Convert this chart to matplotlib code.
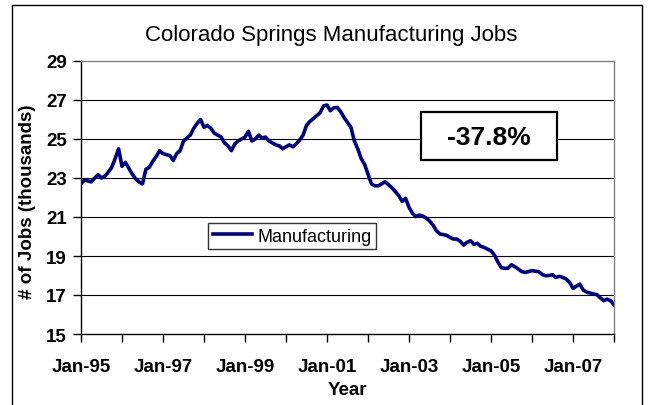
import matplotlib
matplotlib.use("Agg")
import matplotlib.pyplot as plt
from matplotlib.patches import Rectangle
import numpy as np

plt.rcParams['font.family'] = ['Liberation Sans', 'DejaVu Sans']

title = "Colorado Springs Manufacturing Jobs"
series_name = "Manufacturing"
x_label = "Year"
y_label = "# of Jobs (thousands)"
annotation = "-37.8%"

# Monthly values, Jan-1995 .. Jan-2008 (thousands of jobs)
jobs = [
    # 1995
    22.7, 22.9, 22.85, 22.8, 23.0, 23.17, 23.0, 23.1, 23.3, 23.55, 24.0, 24.5,
    # 1996
    23.6, 23.8, 23.5, 23.2, 22.95, 22.8, 22.7, 23.45, 23.55, 23.85, 24.1, 24.4,
    # 1997
    24.25, 24.2, 24.15, 23.9, 24.25, 24.4, 24.9, 25.05, 25.2, 25.55, 25.8, 26.0,
    # 1998
    25.6, 25.7, 25.55, 25.3, 25.2, 25.1, 24.8, 24.65, 24.4, 24.75, 24.9, 25.0,
    # 1999
    25.1, 25.4, 24.9, 25.0, 25.2, 25.05, 25.1, 24.9, 24.8, 24.7, 24.65, 24.5,
    # 2000
    24.6, 24.7, 24.6, 24.75, 24.95, 25.2, 25.7, 25.9, 26.05, 26.2, 26.35, 26.7,
    # 2001
    26.74, 26.45, 26.6, 26.62, 26.4, 26.1, 25.85, 25.6, 24.9, 24.5, 24.0, 23.7,
    # 2002
    23.2, 22.7, 22.6, 22.6, 22.7, 22.81, 22.65, 22.5, 22.3, 22.1, 21.8, 21.96,
    # 2003
    21.5, 21.2, 21.02, 21.1, 21.05, 20.95, 20.8, 20.6, 20.3, 20.13, 20.1, 20.06,
    # 2004
    19.95, 19.87, 19.87, 19.75, 19.56, 19.7, 19.78, 19.6, 19.65, 19.5, 19.44, 19.35,
    # 2005
    19.27, 19.05, 18.7, 18.4, 18.37, 18.37, 18.55, 18.45, 18.33, 18.2, 18.16, 18.2,
    # 2006
    18.25, 18.22, 18.2, 18.05, 17.99, 18.0, 18.04, 17.9, 17.96, 17.9, 17.82, 17.65,
    # 2007
    17.34, 17.45, 17.56, 17.25, 17.15, 17.1, 17.05, 17.02, 16.85, 16.71, 16.79, 16.7,
    # 2008
    16.5,
]
x_tick_labels = ["Jan-95", "Jan-97", "Jan-99", "Jan-01", "Jan-03", "Jan-05", "Jan-07"]
y_ticks = [15, 17, 19, 21, 23, 25, 27, 29]

W, H = 652, 406
fig = plt.figure(figsize=(W / 100, H / 100), dpi=100)

# outer chart frame
fig.patches.append(Rectangle((12 / W, -0.02), (642 - 12) / W, 1.02 - 6 / H,
                             transform=fig.transFigure, fill=False,
                             edgecolor='black', linewidth=1.0))

ax = fig.add_axes([81 / W, 1 - 335 / H, (614 - 81) / W, (335 - 62) / H])

months = np.arange(len(jobs))
ax.plot(months, jobs, color='#000080', linewidth=2.6, label=series_name,
        solid_joinstyle='round', zorder=3)

ax.set_xlim(0, len(jobs) - 1)
ax.set_ylim(15, 29)
ax.set_yticks(y_ticks)
ax.set_xticks(np.arange(0, 24 * len(x_tick_labels), 24))
ax.set_xticklabels(x_tick_labels)
ax.set_xticks(np.arange(0, len(jobs), 12), minor=True)

for t in y_ticks[1:-1]:
    ax.axhline(t, color='black', linewidth=0.8, zorder=1)

ax.tick_params(axis='x', which='both', direction='out', length=6, width=1,
               pad=11, labelsize=13.5)
ax.tick_params(axis='y', which='major', direction='out', length=6, width=1,
               pad=4, labelsize=13.5)
for lbl in ax.get_xticklabels() + ax.get_yticklabels():
    lbl.set_fontweight('bold')

for s in ['left', 'bottom']:
    ax.spines[s].set_color('black')
    ax.spines[s].set_linewidth(1.0)
for s in ['top', 'right']:
    ax.spines[s].set_color('#808080')
    ax.spines[s].set_linewidth(1.0)

fig.text(331 / W, 1 - 36 / H, title, ha='center', va='center', fontsize=16)
fig.text(347.5 / W, 1 - 391 / H, x_label, ha='center', va='center',
         fontsize=13.5, fontweight='bold')
fig.text(28 / W, 1 - 202 / H, y_label, ha='center', va='center', rotation=90,
         fontsize=13.5, fontweight='bold')

# annotation box
fig.patches.append(Rectangle((421 / W, 1 - 161 / H), (557 - 421) / W, (161 - 113) / H,
                             transform=fig.transFigure, facecolor='white',
                             edgecolor='black', linewidth=1.6, zorder=5))
fig.text(489 / W, 1 - 138 / H, annotation, ha='center', va='center',
         fontsize=19, fontweight='bold', zorder=6)

leg = ax.legend(loc='upper left', bbox_to_anchor=((208 - 81) / (614 - 81), (335 - 224) / (335 - 62)),
                frameon=True, fancybox=False, edgecolor='black', fontsize=13,
                handlelength=2.2, handletextpad=0.3, borderpad=0.25,
                borderaxespad=0)
leg.get_frame().set_linewidth(1.0)

fig.savefig("out.png", dpi=100)
